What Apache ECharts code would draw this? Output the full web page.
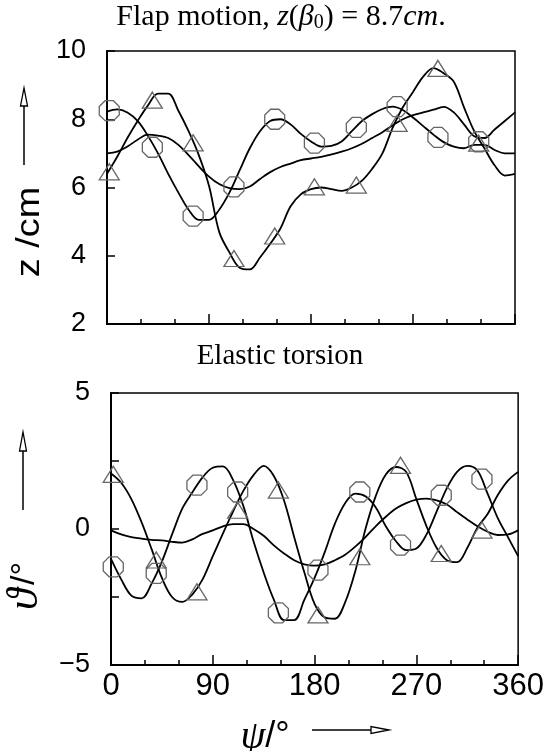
<!DOCTYPE html>
<html>
<head>
<meta charset="utf-8">
<title>Flap motion and elastic torsion</title>
<script src="https://cdn.jsdelivr.net/npm/echarts@6/dist/echarts.min.js"></script>
<style>
  html, body { margin: 0; padding: 0; background: #fff; }
  #main { width: 547px; height: 751px; }
</style>
</head>
<body>
<div id="main"></div>
<script type="text/javascript">
// azimuth psi in degrees, shared by all six curves
var psi = [0, 9, 18, 27, 36, 45, 54, 63, 72, 81, 90, 99, 108, 117, 126, 135, 144, 153, 162, 171,
           180, 189, 198, 207, 216, 225, 234, 243, 252, 261, 270, 279, 288, 297, 306, 315, 324, 333, 342, 351, 360];

// flap motion z / cm
var flapTri = [6.4, 6.9, 7.45, 7.95, 8.4, 8.75, 8.75, 8.25, 7.65, 6.95, 6.05, 4.7, 4.1, 3.65, 3.6, 3.95, 4.35, 4.8, 5.45, 5.8,
               5.95, 6.0, 5.95, 5.9, 6.0, 6.2, 6.55, 7.0, 7.75, 8.35, 8.8, 9.25, 9.5, 9.35, 9.1, 8.35, 7.65, 7.15, 6.65, 6.35, 6.4];
var flapOct = [8.22, 8.29, 8.2, 7.95, 7.52, 7.0, 6.4, 5.85, 5.35, 5.05, 5.05, 5.35, 5.85, 6.5, 7.15, 7.65, 7.95, 8.0, 7.85, 7.57,
               7.35, 7.2, 7.22, 7.35, 7.65, 7.95, 8.15, 8.3, 8.37, 8.27, 8.05, 7.8, 7.55, 7.33, 7.2, 7.15, 7.25, 7.25, 7.1, 7.0, 7.0];
var flapPlain = [7.0, 7.05, 7.2, 7.4, 7.55, 7.52, 7.45, 7.25, 6.95, 6.62, 6.32, 6.1, 5.98, 5.95, 6.03, 6.25, 6.45, 6.6, 6.7, 6.8,
                 6.85, 6.9, 6.97, 7.05, 7.15, 7.28, 7.45, 7.62, 7.82, 8.0, 8.12, 8.2, 8.28, 8.36, 8.2, 7.85, 7.5, 7.45, 7.7, 7.95, 8.2];

// elastic torsion theta / deg
var torsTri = [2.04, 1.7, 1.1, 0.25, -0.75, -1.8, -2.5, -2.68, -2.4, -1.85, -1.0, -0.16, 0.65, 1.4, 1.98, 2.32, 1.95, 1.05, -0.3, -1.6,
               -2.75, -3.25, -3.3, -2.7, -1.55, 0.0, 1.2, 2.0, 2.28, 2.1, 1.1, 0.1, -0.7, -1.15, -1.22, -0.7, 0.05, 0.55, 1.25, 1.78, 2.1];
var torsOct = [-1.1, -1.85, -2.45, -2.55, -2.0, -1.2, -0.2, 0.75, 1.35, 1.9, 2.25, 2.3, 1.8, 0.85, -0.45, -1.6, -2.6, -3.35, -3.35, -2.6,
               -1.8, -0.85, 0.2, 0.95, 1.3, 1.2, 0.8, 0.1, -0.45, -0.78, -0.72, -0.2, 0.65, 1.5, 2.1, 2.32, 2.15, 1.3, 0.4, -0.3, -1.0];
var torsPlain = [-0.05, -0.2, -0.3, -0.35, -0.4, -0.42, -0.47, -0.5, -0.38, -0.18, -0.05, 0.1, 0.18, 0.18, 0.0, -0.25, -0.6, -0.9, -1.15, -1.3,
                 -1.35, -1.3, -1.15, -0.95, -0.65, -0.3, 0.1, 0.45, 0.75, 0.95, 1.08, 1.12, 1.05, 0.9, 0.62, 0.35, 0.1, -0.1, -0.22, -0.2, -0.05];

// symbol positions
var markPsi = [2, 40, 76, 112, 148, 183, 220, 256, 292, 328];
var flapOctMarks = [8.25, 7.18, 5.16, 6.02, 8.0, 7.3, 7.76, 8.37, 7.47, 7.34];
var flapTriMarks = [6.46, 8.56, 7.31, 3.92, 4.58, 6.02, 6.07, 7.88, 9.49, 7.3];
var torsOctMarks = [-1.39, -1.63, 1.61, 1.36, -3.08, -1.51, 1.36, -0.59, 1.24, 1.83];
var torsTriMarks = [2.01, -1.14, -2.31, 0.69, 1.43, -3.16, -1.02, 2.34, -0.9, -0.04];

function pairs(xs, ys) {
    var out = [];
    for (var i = 0; i < xs.length; i++) out.push([xs[i], ys[i]]);
    return out;
}

var octagon = 'path://M2.93 0L7.07 0L10 2.93L10 7.07L7.07 10L2.93 10L0 7.07L0 2.93Z';
var black = '#000';
var sans = 'Liberation Sans';
var serif = 'Liberation Serif';

function curve(idx, ys) {
    return {
        type: 'line', xAxisIndex: idx, yAxisIndex: idx,
        data: pairs(psi, ys), showSymbol: false, smooth: 0.35,
        lineStyle: { color: black, width: 1.8 }, z: 3
    };
}
function marks(idx, ys, sym, size) {
    return {
        type: 'scatter', xAxisIndex: idx, yAxisIndex: idx,
        data: pairs(markPsi, ys), symbol: sym, symbolSize: size,
        itemStyle: { color: 'rgba(0,0,0,0)', borderColor: '#666', borderWidth: 1.3, opacity: 1 },
        z: 4
    };
}
function xAx(idx, labels) {
    return {
        type: 'value', gridIndex: idx, min: 0, max: 360, interval: 90,
        axisLine: { onZero: false, lineStyle: { color: black, width: 2 } },
        axisTick: { inside: true, length: 10, lineStyle: { color: black, width: 1.5 } },
        minorTick: { show: true, splitNumber: 3, length: 5, lineStyle: { color: black, width: 1.5 } },
        splitLine: { show: false },
        axisLabel: { show: labels, color: black, fontFamily: sans, fontSize: 31, margin: 6 }
    };
}
function yAx(idx, min, max, step, minor) {
    return {
        type: 'value', gridIndex: idx, min: min, max: max, interval: step,
        axisLine: { onZero: false, lineStyle: { color: black, width: 2 } },
        axisTick: { inside: true, length: 8, lineStyle: { color: black, width: 1.5 } },
        minorTick: { show: minor > 1, splitNumber: minor, length: 8, lineStyle: { color: black, width: 1.5 } },
        splitLine: { show: false },
        axisLabel: {
            color: black, fontFamily: sans, fontSize: 27, margin: 21,
            formatter: function (v) { return String(v).replace('-', '\u2212'); }
        }
    };
}

var myChart = echarts.init(document.getElementById('main'));
var option = {
    animation: false,
    backgroundColor: '#fff',
    title: [{
        text: 'Flap motion, {i|z}({i|β}{s|0}) = 8.7{i|cm}.',
        left: 281, top: 1, padding: 0, textAlign: 'center',
        textStyle: {
            fontFamily: serif, fontSize: 30, fontWeight: 'normal', color: black,
            rich: {
                i: { fontFamily: serif, fontSize: 30, fontStyle: 'italic', color: black },
                s: { fontFamily: serif, fontSize: 20, color: black, padding: [12, 0, 0, 0] }
            }
        }
    }, {
        text: 'Elastic torsion',
        left: 280, top: 342, padding: 0, textAlign: 'center',
        textStyle: { fontFamily: serif, fontSize: 29, fontWeight: 'normal', color: black }
    }],
    grid: [
        { left: 107, top: 51, width: 408, height: 273, show: true, borderColor: black, borderWidth: 1.5 },
        { left: 111, top: 393, width: 408, height: 272, show: true, borderColor: black, borderWidth: 1.5 }
    ],
    xAxis: [xAx(0, false), xAx(1, true)],
    yAxis: [yAx(0, 2, 10, 2, 0), yAx(1, -5, 5, 5, 2)],
    graphic: [
        // y label, top panel
        { type: 'text', x: 30, y: 232, rotation: Math.PI / 2, scaleX: 1.15,
          style: { text: 'z /cm', font: '33px "Liberation Sans"', fill: black, align: 'center', verticalAlign: 'middle' } },
        { type: 'line', shape: { x1: 24, y1: 165, x2: 24, y2: 105 }, style: { stroke: black, lineWidth: 1.5 } },
        { type: 'polygon', shape: { points: [[24, 88], [20.5, 106], [27.5, 106]] }, style: { fill: '#fff', stroke: black, lineWidth: 1.3 } },
        // y label, bottom panel
        { type: 'text', x: 25, y: 586, rotation: Math.PI / 2,
          style: { text: '{t|ϑ} {n|/°}', fill: black, align: 'center', verticalAlign: 'middle',
                   rich: { t: { font: 'italic 44px "Liberation Serif"', fill: black }, n: { font: '34px "Liberation Sans"', fill: black } } } },
        { type: 'line', shape: { x1: 23, y1: 510, x2: 23, y2: 450 }, style: { stroke: black, lineWidth: 1.5 } },
        { type: 'polygon', shape: { points: [[23, 432], [19.5, 451], [26.5, 451]] }, style: { fill: '#fff', stroke: black, lineWidth: 1.3 } },
        // x label
        { type: 'text', x: 265, y: 737,
          style: { text: '{p|ψ}{n|/°}', fill: black, align: 'center', verticalAlign: 'middle',
                   rich: { p: { font: 'italic 40px "Liberation Serif"', fill: black }, n: { font: '36px "Liberation Sans"', fill: black } } } },
        { type: 'line', shape: { x1: 312, y1: 730, x2: 371, y2: 730 }, style: { stroke: black, lineWidth: 1.5 } },
        { type: 'polygon', shape: { points: [[389, 730], [371, 726.5], [371, 733.5]] }, style: { fill: '#fff', stroke: black, lineWidth: 1.3 } }
    ],
    series: [
        curve(0, flapPlain), curve(0, flapOct), curve(0, flapTri),
        marks(0, flapOctMarks, octagon, 20), marks(0, flapTriMarks, 'triangle', [20, 16]),
        curve(1, torsPlain), curve(1, torsOct), curve(1, torsTri),
        marks(1, torsOctMarks, octagon, 20), marks(1, torsTriMarks, 'triangle', [20, 16])
    ]
};
myChart.setOption(option);
</script>
</body>
</html>
